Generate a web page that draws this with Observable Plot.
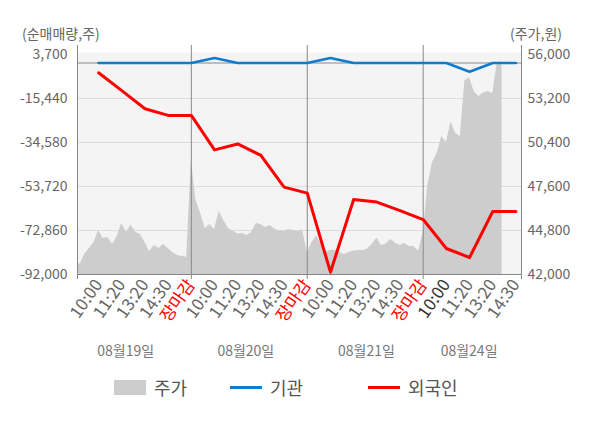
<!DOCTYPE html>
<html><head><meta charset="utf-8">
<script src="https://cdn.jsdelivr.net/npm/d3@7"></script>
<script src="https://cdn.jsdelivr.net/npm/@observablehq/plot@0.6"></script>
<style>
body{margin:0;background:#fff;font-family:"Noto Sans CJK KR","Noto Sans",sans-serif;}
#wrap{position:relative;width:600px;height:428px;overflow:hidden;background:#fff;}
#wrap svg{position:absolute;left:0;top:0;}
.unit{position:absolute;top:23px;font-size:14px;color:#666;line-height:20px;white-space:nowrap;}
.leg{position:absolute;top:375px;height:24px;display:flex;align-items:center;font-size:18px;color:#555;white-space:nowrap;}
.sw{display:inline-block;width:32px;margin-right:8px;}
</style></head><body>
<div id="wrap">
  <div class="unit" style="left:22px">(순매매량,주)</div>
  <div class="unit" style="left:510px">(주가,원)</div>
  <div class="leg" style="left:114px"><span class="sw" style="height:15px;background:#cdcdcd"></span>주가</div>
  <div class="leg" style="left:230px"><span class="sw" style="height:3px;background:#0e7ccc"></span>기관</div>
  <div class="leg" style="left:368px"><span class="sw" style="height:3px;background:#ff0000"></span>외국인</div>
</div>
<script>
// ---- data ----
const xLabels = ["10:00","11:20","13:20","14:30","장마감",
                 "10:00","11:20","13:20","14:30","장마감",
                 "10:00","11:20","13:20","14:30","장마감",
                 "10:00","11:20","13:20","14:30"];
const dateLabels = ["08월19일","08월20일","08월21일","08월24일"];
const flowTicks = [-92000, -72860, -53720, -34580, -15440, 3700];
const priceTicks = [42000, 44800, 47600, 50400, 53200, 56000];
// 외국인 cumulative net buy (shares)
const foreign = [-4260, -12000, -19900, -22800, -22800,
                 -37800, -35200, -40200, -54000, -56600,
                 -91000, -59400, -60500, -64200, -68100,
                 -80700, -84600, -64600, -64600];
// 기관 cumulative net buy (shares)
const institution = [0, 0, 0, 0, 0,
                     2200, 0, 0, 0, 0,
                     2200, 0, 0, 0, 0,
                     0, -3800, 0, 0];
// intraday price (won), evenly sampled within each session
const price19 = [42950, 42640, 43270, 43650, 44040, 44800, 44290, 44350, 43910, 44420,
                 45250, 44670, 45150, 44690, 44550, 44040, 43460, 43850, 43650, 43910,
                 43650, 43400, 43210, 43150, 43100];
const price20 = [49250, 46710, 45880, 44930, 45180, 44860, 46010, 45440, 44930, 44770,
                 44580, 44610, 44480, 44670, 45250, 45180, 44990, 45120, 44880, 44770,
                 44740, 44860, 44800, 44740, 44830];
const price21 = [43400, 44040, 44450, 43970, 43460, 43530, 43560, 43400, 43270, 43400,
                 43500, 43530, 43530, 43620, 43910, 44320, 43850, 43940, 44230, 44000,
                 43850, 43970, 43780, 43780, 43500];
const price24 = [44670, 47660, 49130, 49700, 50780, 50400, 51700, 50970, 50780, 54350,
                 54500, 53650, 53330, 53550, 53650, 53520, 55490, 55520];

// ---- layout ----
const FONT = '"Noto Sans CJK KR","Noto Sans",sans-serif';
const W = 600, H = 365, ML = 77, MR = 79, MB = 91;
const xDomain = [-0.91, 18.24];
const perDay = 5, step = 0.2;
const separators = xLabels.map((l, i) => l === "장마감" ? i : null).filter(i => i !== null);
const timeIdx = xLabels.map((l, i) => i).filter(i => xLabels[i] !== "장마감" && i !== 15);
const closeIdx = separators;
const dateX = [1.17, 6.35, 11.55, 15.98];
const fmt = d => d.toLocaleString("en-US");
const XFS = 17, XROT = -55, XPAD = 7;

const priceData = [];
[price19, price20, price21, price24].forEach((arr, d) => {
  arr.forEach((p, k) => priceData.push({x: d * perDay - 1 + k * step, p}));
});
const foreignData = foreign.map((v, i) => ({i, v}));
const instData = institution.map((v, i) => ({i, v}));

const bottom = Plot.plot({
  width: W, height: H, marginLeft: ML, marginRight: MR, marginTop: 52, marginBottom: MB,
  style: {background: "transparent", fontFamily: FONT, fontSize: "14px", overflow: "visible"},
  x: {domain: xDomain, axis: null},
  y: {domain: [42000, 56000], insetTop: 2, axis: null},
  marks: [
    Plot.frame({fill: "#f4f4f4", stroke: null}),
    Plot.gridY(priceTicks.slice(1, -1), {stroke: "#dcdcdc", strokeOpacity: 1}),
    Plot.areaY(priceData, {x: "x", y1: 42000, y2: "p", fill: "#cdcdcd", clip: true}),
    Plot.axisY(priceTicks, {anchor: "right", tickSize: 0, tickPadding: 6, tickFormat: fmt,
      fill: "#666", fontSize: 14, label: null})
  ]
});

const topLayer = Plot.plot({
  width: W, height: H, marginLeft: ML, marginRight: MR, marginTop: 45, marginBottom: MB,
  style: {background: "transparent", fontFamily: FONT, fontSize: "14px", overflow: "visible"},
  x: {domain: xDomain, axis: null},
  y: {domain: [-92000, 3700], insetTop: 9, axis: null},
  marks: [
    Plot.ruleY([0], {stroke: "#888"}),
    Plot.ruleX(separators, {stroke: "#888"}),
    Plot.ruleX(xDomain, {stroke: "#888"}),
    Plot.ruleY([flowTicks[0]], {stroke: "#888"}),
    Plot.line(foreignData, {x: "i", y: "v", stroke: "#ff0000", strokeWidth: 3}),
    Plot.line(instData, {x: "i", y: "v", stroke: "#0e7ccc", strokeWidth: 2.5}),
    Plot.axisY(flowTicks, {anchor: "left", tickSize: 0, tickPadding: 10, tickFormat: fmt,
      fill: "#666", fontSize: 14, label: null}),
    Plot.axisX([xDomain[0], ...separators, xDomain[1]], {tickSize: 5, tickFormat: () => "",
      stroke: "#888", label: null}),
    Plot.axisX(timeIdx, {tickSize: 0, tickPadding: XPAD, tickRotate: XROT, tickFormat: i => xLabels[i],
      fill: "#666", fontSize: XFS, label: null}),
    Plot.axisX([15], {tickSize: 0, tickPadding: XPAD, tickRotate: XROT, tickFormat: i => xLabels[i],
      fill: "#333", fontSize: XFS, label: null}),
    Plot.axisX(closeIdx, {tickSize: 0, tickPadding: XPAD, tickRotate: XROT, tickFormat: i => xLabels[i],
      fill: "#ff0000", fontSize: XFS, label: null}),
    Plot.text(dateLabels, {x: (d, i) => dateX[i], frameAnchor: "bottom", dy: 81,
      fill: "#777", fontSize: 14})
  ]
});

const wrap = document.getElementById("wrap");
wrap.insertBefore(topLayer, wrap.firstChild);
wrap.insertBefore(bottom, wrap.firstChild);
</script>
</body></html>
